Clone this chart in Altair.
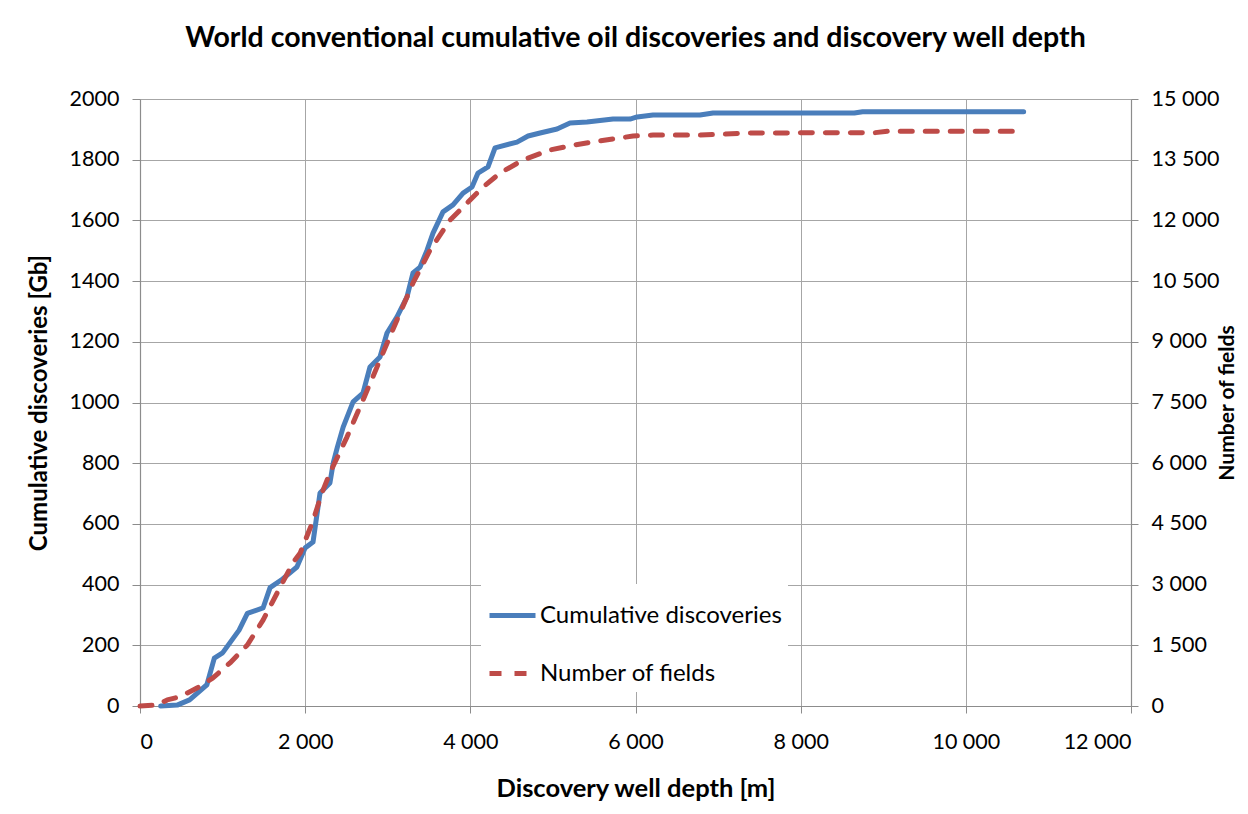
import altair as alt
import pandas as pd

# Cumulative discoveries [Gb] vs discovery well depth [m]
disc_depth = [250, 450, 600, 810, 900, 1000, 1200, 1300, 1490, 1575, 1710, 1900, 2000, 2095,
              2180, 2300, 2340, 2390, 2460, 2580, 2700, 2785, 2906, 2991, 3112, 3233, 3306,
              3391, 3476, 3548, 3669, 3790, 3912, 4020, 4093, 4214, 4299, 4565, 4699, 4844,
              5050, 5207, 5413, 5728, 5934, 6019, 6212, 6781, 6939, 8650, 8750, 10700]
disc_gb = [0, 3, 20, 70, 158, 175, 250, 305, 323, 390, 415, 458, 521, 540,
           702, 735, 801, 853, 919, 1002, 1031, 1117, 1150, 1229, 1282, 1348, 1427,
           1446, 1502, 1558, 1628, 1651, 1690, 1710, 1756, 1776, 1839, 1858, 1878, 1888,
           1901, 1921, 1924, 1934, 1934, 1941, 1947, 1947, 1954, 1954, 1958, 1958]

# Number of fields vs discovery well depth [m]
fields_depth = [0, 206, 330, 480, 690, 880, 1090, 1300, 1490, 1660, 1850, 1940, 2095, 2200,
                2300, 2506, 2700, 2906, 3112, 3306, 3512, 3754, 3960, 4154, 4360, 4638,
                4965, 5244, 5571, 5970, 6212, 6781, 7387, 8900, 9050, 10700]
fields_n = [0, 23, 150, 225, 443, 690, 1065, 1508, 2123, 2790, 3533, 3780, 4575, 5250,
            5760, 6645, 7560, 8550, 9540, 10455, 11265, 12008, 12428, 12825, 13170, 13493,
            13740, 13860, 13965, 14085, 14108, 14108, 14160, 14168, 14205, 14205]

series_names = ["Cumulative discoveries", "Number of fields"]
series_colors = ["#4A7EBB", "#BE4B48"]

x_ticks = [0, 2000, 4000, 6000, 8000, 10000, 12000]
left_ticks = [0, 200, 400, 600, 800, 1000, 1200, 1400, 1600, 1800, 2000]
right_ticks = [0, 1500, 3000, 4500, 6000, 7500, 9000, 10500, 12000, 13500, 15000]

df_disc = pd.DataFrame({"depth": disc_depth, "value": disc_gb, "series": series_names[0]})
df_fields = pd.DataFrame({"depth": fields_depth, "value": fields_n, "series": series_names[1]})

FONT = "Lato"
TXT = "#000000"
GRID = "#A6A6A6"
space_fmt = "replace(format(datum.value, ','), ',', ' ')"


def make_legend():
    return alt.Legend(title=None, orient="none", legendX=341, legendY=485,
                      fillColor="white", padding=6, symbolType="stroke",
                      symbolSize=2116, symbolStrokeWidth=5,
                      labelFontSize=24, labelFont=FONT, labelColor=TXT,
                      labelOffset=2, rowPadding=20, labelLimit=400)


color_enc = alt.Color("series:N",
                      scale=alt.Scale(domain=series_names, range=series_colors),
                      legend=make_legend())
dash_enc = alt.StrokeDash("series:N",
                          scale=alt.Scale(domain=series_names, range=[[4000, 1], [12, 13]]),
                          legend=make_legend())

x_enc = alt.X("depth:Q", scale=alt.Scale(domain=[0, 12000], nice=False),
              axis=alt.Axis(values=x_ticks, labelExpr=space_fmt,
                            title="Discovery well depth  [m]", titlePadding=24,
                            titleFontSize=25.5,
                            tickSize=7, labelPadding=18, grid=True))

line_base = dict(strokeWidth=5, strokeCap="round", strokeJoin="round", clip=False)

blue = alt.Chart(df_disc).mark_line(**line_base).encode(
    x=x_enc,
    y=alt.Y("value:Q", scale=alt.Scale(domain=[0, 2000], nice=False),
            axis=alt.Axis(orient="left", values=left_ticks, format="d",
                          title="Cumulative discoveries [Gb]", titlePadding=18,
                          tickSize=8, labelPadding=13, grid=True)),
    color=color_enc,
    strokeDash=dash_enc,
)

red = alt.Chart(df_fields).mark_line(**line_base).encode(
    x=x_enc,
    y=alt.Y("value:Q", scale=alt.Scale(domain=[0, 15000], nice=False),
            axis=alt.Axis(orient="right", values=right_ticks, labelExpr=space_fmt,
                          title="Number of fields", titleAngle=270, titleBaseline="top",
                          titleFontSize=21, titlePadding=-2,
                          tickSize=7, labelPadding=13, grid=False)),
    color=color_enc,
    strokeDash=dash_enc,
)

chart = alt.layer(blue, red).resolve_scale(y="independent").properties(
    width=991, height=607,
    autosize=alt.AutoSizeParams(type="none"),
    padding={"left": 132, "top": 91, "right": 109, "bottom": 99},
    title=alt.Title("World conventional cumulative oil discoveries and discovery well depth",
                    fontSize=28.5, font=FONT, fontWeight="bold", color=TXT, offset=36,
                    anchor="middle"),
).configure_view(stroke=None).configure_axis(
    labelFont=FONT, labelFontSize=21.5, labelColor=TXT,
    titleFont=FONT, titleFontSize=24, titleFontWeight="bold", titleColor=TXT,
    gridColor=GRID, gridWidth=1, gridOpacity=1,
    domainColor="#8C8C8C", domainWidth=1.2,
    tickColor="#8C8C8C", tickWidth=1,
)

chart.save("out.html", embed_options={"renderer": "svg", "actions": False})
